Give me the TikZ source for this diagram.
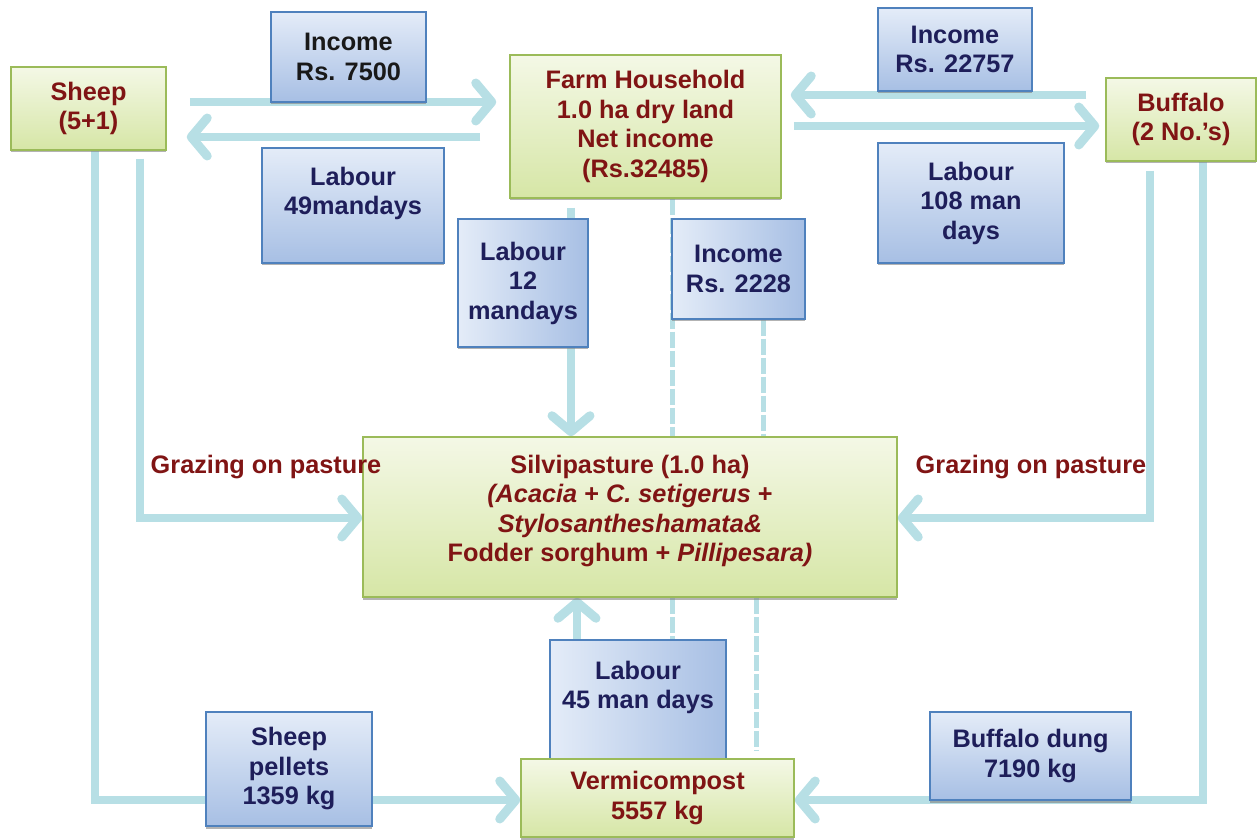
\documentclass[tikz,border=0pt]{standalone}
\usepackage{fontspec}
\setmainfont{Liberation Sans}
\usetikzlibrary{arrows.meta,shadows,backgrounds}
\begin{document}
\begin{tikzpicture}[x=1pt,y=1pt,
  font=\fontsize{25.3}{29.5}\selectfont\bfseries,
  boxshadow/.style={drop shadow={shadow xshift=0pt,shadow yshift=-2.5pt,fill=black!50,opacity=0.6}},
  greenbox/.style={draw=greenLine,line width=1.5pt,top color=greenTop,bottom color=greenBot,text=redText,align=center,inner sep=0pt,boxshadow},
  bluebox/.style={draw=blueLine,line width=1.5pt,top color=blueTop,bottom color=blueBot,text=navyText,align=center,inner sep=0pt,boxshadow},
  blueboxh/.style={draw=blueLine,line width=1.5pt,left color=blueTop,right color=blueBot,text=navyText,align=center,inner sep=0pt,boxshadow},
  flow/.style={draw=flowColor,line width=8pt,-{Straight Barb[length=16pt,width=38pt,line width'=9pt,round]}},
  dashline/.style={draw=flowColor,line width=5pt,dash pattern=on 16pt off 3pt}]
\definecolor{greenLine}{RGB}{155,187,89}
\definecolor{greenTop}{RGB}{244,248,230}
\definecolor{greenBot}{RGB}{214,230,166}
\definecolor{blueLine}{RGB}{79,129,189}
\definecolor{blueTop}{RGB}{228,236,248}
\definecolor{blueBot}{RGB}{167,191,228}
\definecolor{redText}{RGB}{128,20,20}
\definecolor{navyText}{RGB}{30,30,90}
\definecolor{flowColor}{RGB}{183,223,229}
\path[use as bounding box] (0,0) rectangle (1258,839);

\node[greenbox,minimum width=155pt,minimum height=83pt] (sheep) at (  88.50,730.50) {Sheep\\(5+1)};
\node[bluebox,text=black!90,minimum width=155pt,minimum height=90pt] (inc7500) at ( 348.50,782.00) {Income\\Rs. 7500};
\node[bluebox,minimum width=182pt,minimum height=115pt] (lab49) at ( 353.00,633.50) {Labour\\49mandays\\\mbox{}};
\node[greenbox,minimum width=271pt,minimum height=143pt] (farm) at ( 645.50,712.50) {Farm Household\\1.0 ha dry land\\Net income\\(Rs.32485)};
\node[bluebox,minimum width=154pt,minimum height=83pt] (inc22757) at ( 955.00,789.50) {Income\\Rs. 22757};
\node[greenbox,minimum width=150pt,minimum height=83pt] (buffalo) at (1181.00,719.50) {Buffalo\\(2 No.’s)};
\node[bluebox,minimum width=186pt,minimum height=120pt] (lab108) at ( 971.00,636.00) {Labour\\108 man\\days};
\node[blueboxh,minimum width=130pt,minimum height=128pt] (lab12) at ( 523.00,556.00) {Labour\\12\\mandays};
\node[blueboxh,minimum width=133pt,minimum height=100pt] (inc2228) at ( 738.50,570.00) {Income\\Rs. 2228};
\node[greenbox,minimum width=534pt,minimum height=160pt] (silvi) at ( 630.00,322.00) {Silvipasture (1.0 ha)\\\textit{(Acacia} + \textit{C. setigerus} +\\\textit{Stylosantheshamata\&}\\Fodder sorghum + \textit{Pillipesara)}\\[-12pt]\mbox{}};
\node[blueboxh,minimum width=176pt,minimum height=119pt] (lab45) at ( 638.00,139.50) {Labour\\45 man days\\\mbox{}};
\node[greenbox,minimum width=273pt,minimum height=78pt] (vermi) at ( 657.50, 41.00) {Vermicompost\\5557 kg};
\node[bluebox,minimum width=166pt,minimum height=114pt] (pellets) at ( 289.00, 70.00) {Sheep\\pellets\\1359 kg};
\node[bluebox,minimum width=201pt,minimum height=88pt] (dung) at (1030.50, 83.00) {Buffalo dung\\7190 kg};

\node[text=redText] (grazeL) at ( 266.00,372.00) {Grazing on pasture};
\node[text=redText] (grazeR) at (1031.00,372.00) {Grazing on pasture};

\begin{scope}[on background layer]
\draw[flow] ([xshift=23pt,yshift=6.5pt]sheep.east) -- ([xshift=-13pt,yshift=24.5pt]farm.west);
\draw[flow] ([xshift=-29pt,yshift=-10.5pt]farm.west) -- ([xshift=20pt,yshift=-28.5pt]sheep.east);
\draw[flow] ([xshift=-19pt,yshift=24.5pt]buffalo.west) -- ([xshift=9pt,yshift=31.5pt]farm.east);
\draw[flow] ([xshift=12pt,yshift=0.5pt]farm.east) -- ([xshift=-6pt,yshift=-6.5pt]buffalo.west);
\draw[flow] ([xshift=-74.5pt,yshift=-9pt]farm.south) -- ([xshift=-59pt]silvi.north);
\draw[dashline] ([xshift=26.5pt]farm.south) -- ([xshift=42pt]silvi.north);
\draw[dashline] ([xshift=24.5pt]inc2228.south) -- ([xshift=133pt]silvi.north);
\draw[flow] ([xshift=-80.5pt]vermi.north) -- ([xshift=-53pt]silvi.south);
\draw[dashline] ([xshift=42pt]silvi.south) -- ([xshift=14.5pt]vermi.north);
\draw[dashline] ([xshift=126pt]silvi.south) -- ([xshift=98.5pt,yshift=7pt]vermi.north);
\draw[flow] ([xshift=6.5pt]sheep.south) |- ([yshift=-2pt]vermi.west);
\draw[flow] ([xshift=51.5pt,yshift=-8pt]sheep.south) |- ([yshift=-1pt]silvi.west);
\draw[flow] ([xshift=-31pt,yshift=-9pt]buffalo.south) |- ([yshift=-1pt]silvi.east);
\draw[flow] ([xshift=22pt]buffalo.south) |- ([yshift=-2pt]vermi.east);
\end{scope}
\end{tikzpicture}
\end{document}
